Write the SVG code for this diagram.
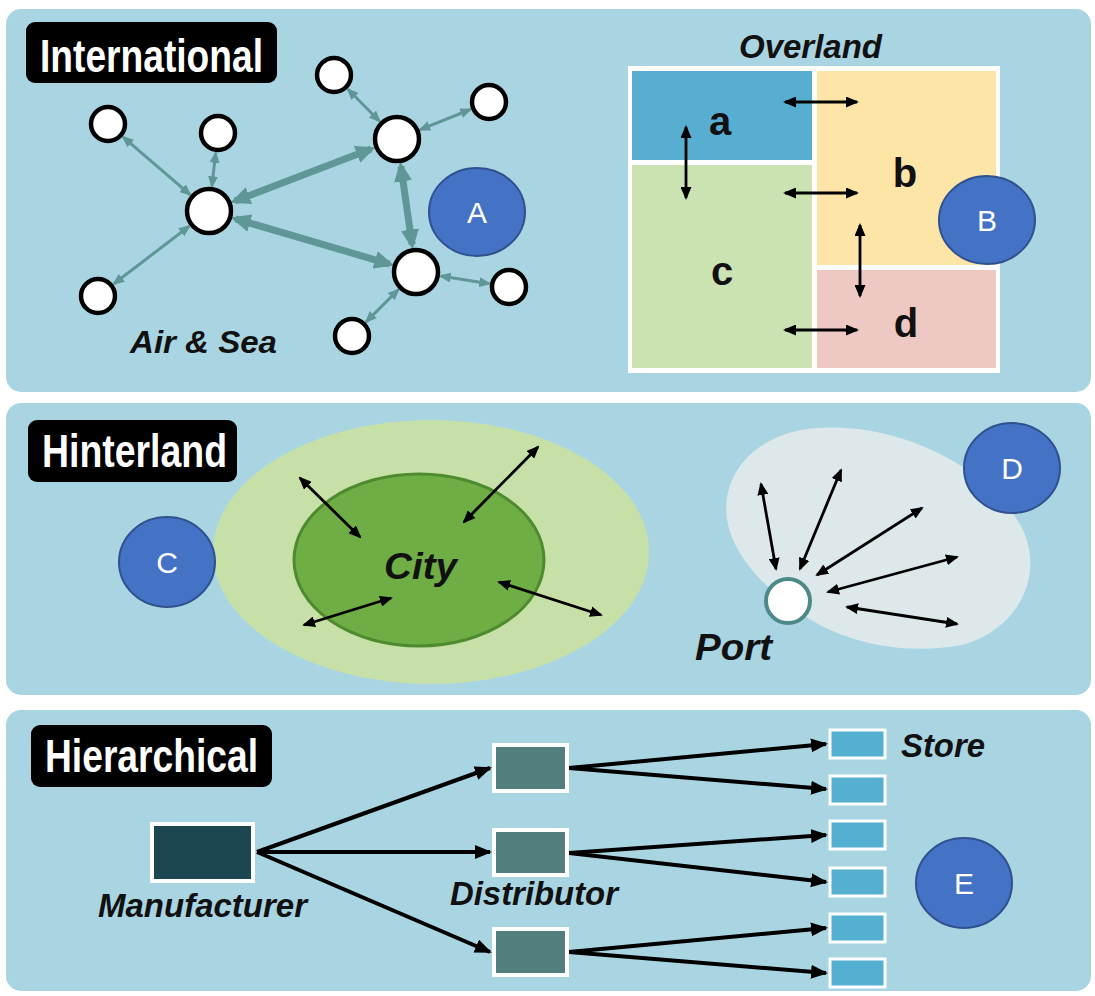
<svg xmlns="http://www.w3.org/2000/svg" width="1095" height="996" viewBox="0 0 1095 996">
<defs>
<marker id="mt" markerUnits="userSpaceOnUse" viewBox="0 0 12 10" refX="10" refY="5" markerWidth="12" markerHeight="10" orient="auto-start-reverse"><path d="M0,0 L12,5 L0,10 z" fill="#5e9796"/></marker>
<marker id="mT" markerUnits="userSpaceOnUse" viewBox="0 0 20 18" refX="15" refY="9" markerWidth="20" markerHeight="18" orient="auto-start-reverse"><path d="M0,0 L20,9 L0,18 z" fill="#5e9796"/></marker>
<marker id="mb" markerUnits="userSpaceOnUse" viewBox="0 0 13 11" refX="11" refY="5.5" markerWidth="13" markerHeight="11" orient="auto-start-reverse"><path d="M0,0 L13,5.5 L0,11 z" fill="#000"/></marker>
<marker id="mB" markerUnits="userSpaceOnUse" viewBox="0 0 17 14" refX="15" refY="7" markerWidth="17" markerHeight="14" orient="auto"><path d="M0,0 L17,7 L0,14 z" fill="#000"/></marker>
</defs>
<style>
.panel{fill:#a9d5e3}
.tag rect{fill:#000}
.tag text{fill:#fff;font-family:"Liberation Sans",Arial,sans-serif;font-weight:bold;font-size:46px}
.lbl{font-family:"Liberation Sans",Arial,sans-serif;font-weight:bold;font-style:italic;fill:#111}
.let{font-family:"Liberation Sans",Arial,sans-serif;font-weight:bold;font-size:40px;fill:#111;text-anchor:middle}
.node{fill:#fff;stroke:#000;stroke-width:4.5}
.badge ellipse{fill:#4472c4;stroke:#2f528f;stroke-width:2}
.badge text{fill:#fff;font-family:"Liberation Sans",Arial,sans-serif;font-size:30px;text-anchor:middle}
.tl{stroke:#5e9796;stroke-width:3;fill:none;marker-start:url(#mt);marker-end:url(#mt)}
.tk{stroke:#5e9796;stroke-width:7;fill:none;marker-start:url(#mT);marker-end:url(#mT)}
.bk{stroke:#000;stroke-width:2.8;fill:none;marker-start:url(#mb);marker-end:url(#mb)}
.hk{stroke:#000;stroke-width:4;fill:none;marker-end:url(#mB)}
.dist{fill:#527f7d;stroke:#fff;stroke-width:4}
.store{fill:#55afd1;stroke:#fff;stroke-width:3}
</style>
<rect width="1095" height="996" fill="#fff"/>
<g id="panels">
<rect class="panel" x="6" y="9" width="1085" height="383" rx="15"/>
<rect class="panel" x="6" y="403" width="1085" height="292" rx="15"/>
<rect class="panel" x="6" y="710" width="1085" height="281" rx="15"/>
</g>
<g id="overland-regions">
<rect x="628" y="66" width="372" height="307" fill="#fff"/>
<g id="region-a"><rect x="632" y="71" width="180" height="89" fill="#58aed1"/></g>
<g id="region-c"><rect x="632" y="165" width="180" height="203" fill="#cbe3b3"/></g>
<g id="region-b"><rect x="817" y="71" width="179" height="194" fill="#fde5a7"/></g>
<g id="region-d"><rect x="817" y="270" width="179" height="98" fill="#eec8c2"/></g>
</g>
<g id="hinterland-regions">
<g id="city-hinterland"><ellipse cx="431" cy="552" rx="218" ry="132" fill="#c6e0a8"/></g>
<g id="city"><ellipse cx="419" cy="560" rx="125" ry="86" fill="#6fae44" stroke="#4e8a2e" stroke-width="3"/></g>
<g id="port-hinterland"><path d="M817,428 C900,422 990,468 1022,528 C1044,572 1022,628 962,645 C902,656 842,642 802,614 C772,594 734,560 727,520 C720,470 760,432 817,428 Z" fill="#dde8eb"/></g>
</g>
<g id="connectors">
<line class="tl" x1="123.2" y1="137.1" x2="190.1" y2="194.7"/>
<line class="tl" x1="215.7" y1="152.9" x2="211.9" y2="186.2"/>
<line class="tl" x1="113.9" y1="283.8" x2="189.2" y2="226.2"/>
<line class="tl" x1="348" y1="89.3" x2="379.5" y2="121.2"/>
<line class="tl" x1="470.4" y1="109.5" x2="420.2" y2="129.7"/>
<line class="tl" x1="489.3" y1="283.8" x2="440.7" y2="276"/>
<line class="tl" x1="366.1" y1="321.9" x2="398.3" y2="289.7"/>
<line class="tk" x1="235" y1="201" x2="371" y2="149"/>
<line class="tk" x1="235.5" y1="218.8" x2="389.5" y2="264.1"/>
<line class="tk" x1="400.9" y1="166.5" x2="412.1" y2="244.5"/>
<line class="bk" x1="785" y1="102" x2="857" y2="102"/>
<line class="bk" x1="785" y1="193" x2="857" y2="193"/>
<line class="bk" x1="785" y1="330" x2="857" y2="330"/>
<line class="bk" x1="686" y1="127" x2="686" y2="198"/>
<line class="bk" x1="860" y1="225" x2="860" y2="296"/>
<line class="bk" x1="300" y1="478" x2="360" y2="537"/>
<line class="bk" x1="538" y1="447" x2="464" y2="522"/>
<line class="bk" x1="304" y1="625" x2="391" y2="598"/>
<line class="bk" x1="499" y1="582" x2="601" y2="615"/>
<line class="bk" x1="776" y1="569" x2="761" y2="484"/>
<line class="bk" x1="800" y1="569" x2="841" y2="470"/>
<line class="bk" x1="817" y1="575" x2="922" y2="508"/>
<line class="bk" x1="828" y1="592" x2="957" y2="557"/>
<line class="bk" x1="847" y1="607" x2="957" y2="624"/>
<line class="hk" x1="257" y1="852" x2="490" y2="768"/>
<line class="hk" x1="257" y1="852" x2="490" y2="852"/>
<line class="hk" x1="257" y1="852" x2="490" y2="952"/>
<line class="hk" x1="569" y1="768" x2="826" y2="744"/>
<line class="hk" x1="569" y1="768" x2="826" y2="789"/>
<line class="hk" x1="569" y1="853" x2="826" y2="835"/>
<line class="hk" x1="569" y1="853" x2="826" y2="882"/>
<line class="hk" x1="569" y1="952" x2="826" y2="928"/>
<line class="hk" x1="569" y1="952" x2="826" y2="973"/>
</g>
<g id="n1"><circle class="node" cx="108" cy="124" r="17"/></g>
<g id="n2"><circle class="node" cx="218" cy="133" r="17"/></g>
<g id="n3"><circle class="node" cx="98" cy="296" r="17"/></g>
<g id="n4"><circle class="node" cx="334" cy="75" r="17"/></g>
<g id="n5"><circle class="node" cx="489" cy="102" r="17"/></g>
<g id="n6"><circle class="node" cx="509" cy="287" r="17"/></g>
<g id="n7"><circle class="node" cx="352" cy="336" r="17"/></g>
<g id="hub-left"><circle class="node" cx="209" cy="211" r="22"/></g>
<g id="hub-top"><circle class="node" cx="397" cy="139" r="22"/></g>
<g id="hub-bottom"><circle class="node" cx="416" cy="272" r="22"/></g>
<g id="port"><circle cx="788" cy="601" r="22" fill="#fff" stroke="#4d8a87" stroke-width="4"/></g>
<g id="manufacturer"><rect x="152" y="824" width="101" height="57" fill="#1c4650" stroke="#fff" stroke-width="4"/></g>
<g id="distributor-1"><rect class="dist" x="494" y="745" width="73" height="46"/></g>
<g id="distributor-2"><rect class="dist" x="494" y="830" width="73" height="45"/></g>
<g id="distributor-3"><rect class="dist" x="494" y="929" width="73" height="46"/></g>
<g id="store-1"><rect class="store" x="830" y="730" width="55" height="28"/></g>
<g id="store-2"><rect class="store" x="830" y="776" width="55" height="28"/></g>
<g id="store-3"><rect class="store" x="830" y="821" width="55" height="28"/></g>
<g id="store-4"><rect class="store" x="830" y="868" width="55" height="28"/></g>
<g id="store-5"><rect class="store" x="830" y="914" width="55" height="28"/></g>
<g id="store-6"><rect class="store" x="830" y="959" width="55" height="28"/></g>
<g id="tag-international" class="tag"><rect x="26" y="22" width="251" height="61" rx="9"/><text x="40" y="72" textLength="223" lengthAdjust="spacingAndGlyphs">International</text></g>
<g id="tag-hinterland" class="tag"><rect x="28" y="420" width="209" height="62" rx="9"/><text x="42" y="467" textLength="185" lengthAdjust="spacingAndGlyphs">Hinterland</text></g>
<g id="tag-hierarchical" class="tag"><rect x="31" y="725" width="241" height="62" rx="9"/><text x="45" y="772" textLength="213" lengthAdjust="spacingAndGlyphs">Hierarchical</text></g>
<g id="labels">
<text class="lbl" x="130" y="353" font-size="32" textLength="147" lengthAdjust="spacingAndGlyphs">Air &amp; Sea</text>
<text class="lbl" x="739" y="58" font-size="33" textLength="143" lengthAdjust="spacingAndGlyphs">Overland</text>
<text class="let" x="720" y="135">a</text>
<text class="let" x="905" y="187">b</text>
<text class="let" x="722" y="285">c</text>
<text class="let" x="906" y="337">d</text>
<text class="lbl" x="384" y="579" font-size="37" textLength="73" lengthAdjust="spacingAndGlyphs">City</text>
<text class="lbl" x="695" y="660" font-size="36" textLength="77" lengthAdjust="spacingAndGlyphs">Port</text>
<text class="lbl" x="98" y="917" font-size="33" textLength="209" lengthAdjust="spacingAndGlyphs">Manufacturer</text>
<text class="lbl" x="450" y="905" font-size="33" textLength="168" lengthAdjust="spacingAndGlyphs">Distributor</text>
<text class="lbl" x="901" y="757" font-size="33" textLength="84" lengthAdjust="spacingAndGlyphs">Store</text>
</g>
<g id="badge-A" class="badge"><ellipse cx="477" cy="212" rx="48" ry="44"/><text x="477" y="223">A</text></g>
<g id="badge-B" class="badge"><ellipse cx="987" cy="220" rx="48" ry="44"/><text x="987" y="231">B</text></g>
<g id="badge-C" class="badge"><ellipse cx="167" cy="562" rx="48" ry="45"/><text x="167" y="573">C</text></g>
<g id="badge-D" class="badge"><ellipse cx="1012" cy="468" rx="48" ry="45"/><text x="1012" y="479">D</text></g>
<g id="badge-E" class="badge"><ellipse cx="964" cy="883" rx="48" ry="45"/><text x="964" y="894">E</text></g>
</svg>
